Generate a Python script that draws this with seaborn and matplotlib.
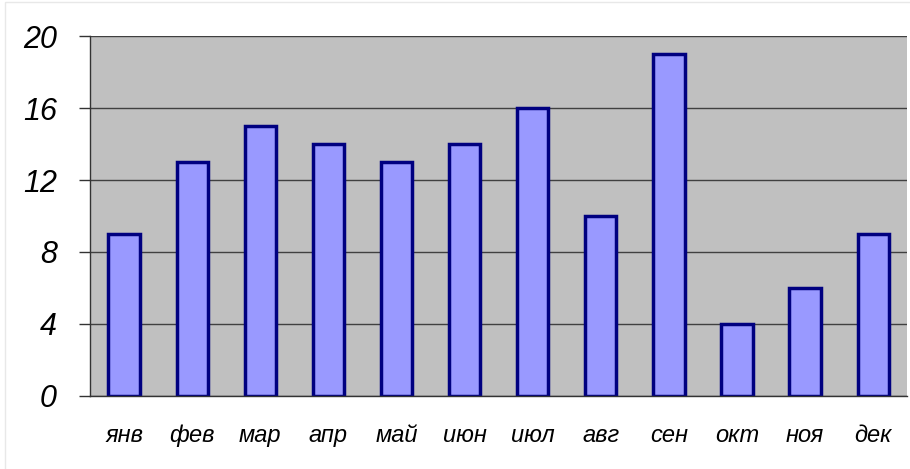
import matplotlib
matplotlib.use("Agg")
import matplotlib.pyplot as plt
import seaborn as sns
import pandas as pd
from matplotlib.patches import Rectangle

months = ["янв", "фев", "мар", "апр", "май", "июн",
          "июл", "авг", "сен", "окт", "ноя", "дек"]
values = [9, 13, 15, 14, 13, 14, 16, 10, 19, 4, 6, 9]
y_ticks = [0, 4, 8, 12, 16, 20]

df = pd.DataFrame({"month": months, "value": values})

sns.set_theme(style="white")
plt.rcParams["font.family"] = ["Liberation Sans", "DejaVu Sans"]
plt.rcParams["text.color"] = "black"
plt.rcParams["xtick.color"] = "black"
plt.rcParams["ytick.color"] = "black"

fig = plt.figure(figsize=(9.1, 4.69), dpi=100)
ax = fig.add_axes([0.099, 0.156, 0.898, 0.767])
ax.set_facecolor("#C0C0C0")

sns.barplot(data=df, x="month", y="value", color="#9999FF", saturation=1,
            edgecolor="#000080", linewidth=2.5, width=0.46, ax=ax)

ax.set_ylim(0, 20)
ax.set_xlim(-0.5, len(months) - 0.5)
ax.set_yticks(y_ticks)
ax.set_yticklabels([str(t) for t in y_ticks], fontsize=22, style="italic")
ax.set_xticks(range(len(months)))
ax.set_xticklabels(months, fontsize=17, style="italic")
ax.set_xlabel("")
ax.set_ylabel("")

ax.yaxis.grid(True, color="#404040", linewidth=1)
ax.set_axisbelow(True)

# ticks between categories on the x axis
ax.set_xticks([i - 0.5 for i in range(len(months) + 1)], minor=True)
ax.tick_params(axis="x", which="major", length=0, pad=20)
ax.tick_params(axis="x", which="minor", length=7, color="#333333", width=1)
ax.tick_params(axis="y", length=8, color="#333333", width=1, pad=16, left=True)

for side in ["top", "right"]:
    ax.spines[side].set_visible(False)
for side in ["left", "bottom"]:
    ax.spines[side].set_color("#333333")
    ax.spines[side].set_linewidth(1)

fig.patches.append(Rectangle((0.006, -0.01), 1.0, 1.006, transform=fig.transFigure,
                             fill=False, edgecolor="#E8E8E8", linewidth=1))

fig.savefig("out.png", dpi=100)
